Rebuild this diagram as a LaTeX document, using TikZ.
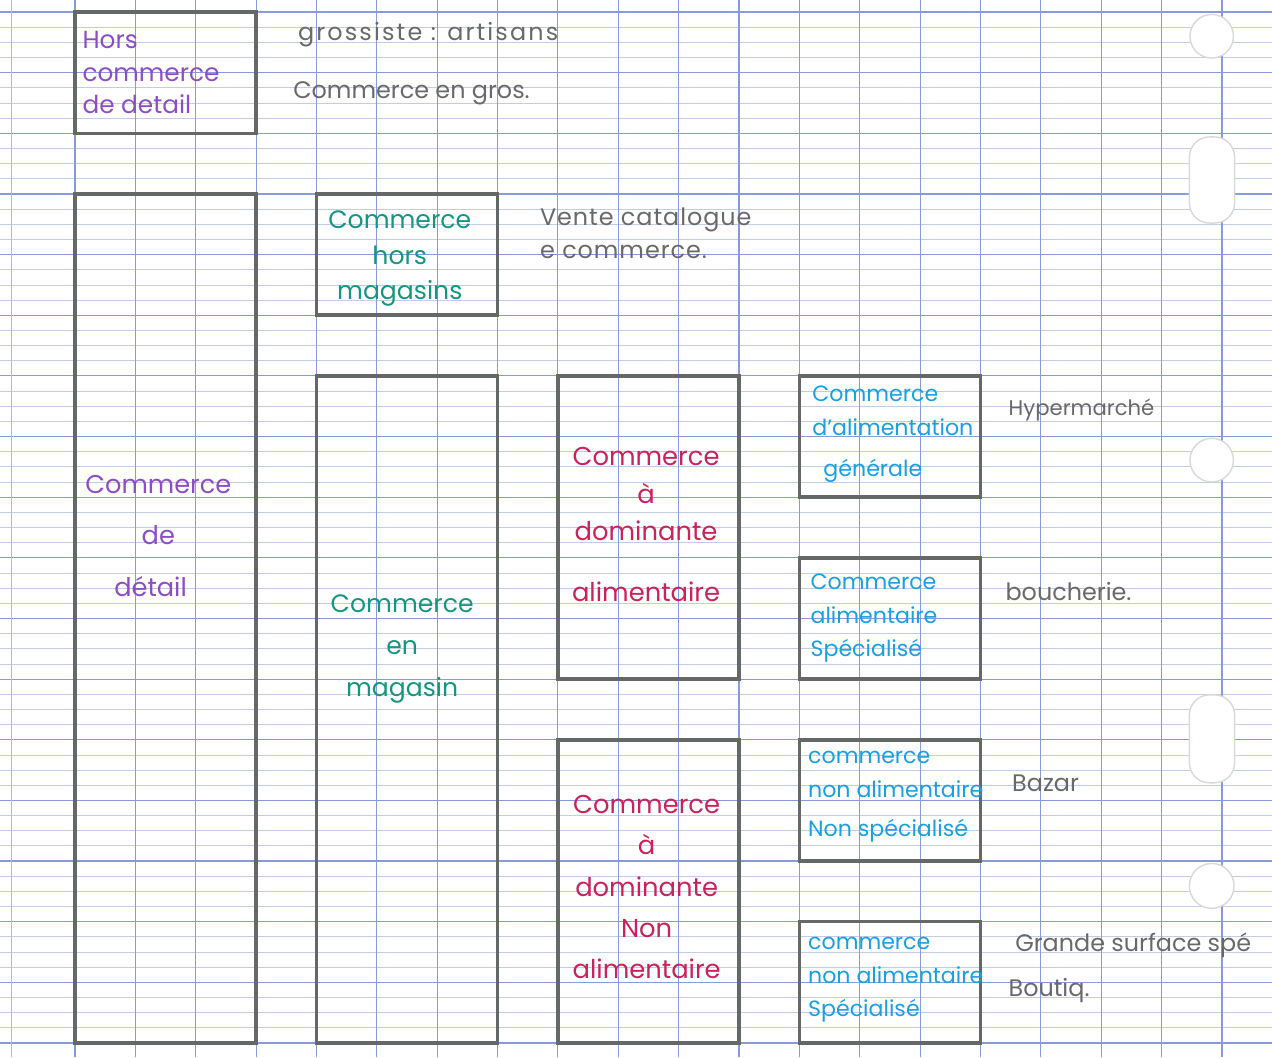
\documentclass[tikz,border=0pt]{standalone}
\usepackage{fontspec}
\setmainfont{Poppins}

\definecolor{pencil}{RGB}{100,105,104}
\definecolor{penpurple}{RGB}{140,78,196}
\definecolor{penteal}{RGB}{22,150,128}
\definecolor{pencrimson}{RGB}{200,35,90}
\definecolor{pencyan}{RGB}{25,160,225}
\definecolor{leadgray}{RGB}{105,105,105}
\definecolor{gridblue}{RGB}{135,155,218}
\definecolor{gridlight}{RGB}{195,203,232}
\definecolor{marginpink}{RGB}{230,165,185}

\begin{document}
\begin{tikzpicture}[x=1.2cm, y=-1.2055cm,
    box/.style={draw=pencil, line width=2pt},
    gridmajor/.style={gridblue, line width=0.65pt},
    gridminor/.style={gridlight, line width=0.45pt},
    hole/.style={fill=white, draw=black!15, line width=0.8pt},
    purpletxt/.style={text=penpurple, inner sep=0pt},
    tealtxt/.style={text=penteal, inner sep=0pt, align=center},
    crimsontxt/.style={text=pencrimson, inner sep=0pt, align=center},
    cyantxt/.style={text=pencyan, inner sep=0pt, anchor=west, align=left,
        font=\fontsize{12.5}{19}\selectfont},
    notetxt/.style={text=leadgray, inner sep=0pt, anchor=west, align=left,
        font=\fontsize{13.5}{18.6}\selectfont}]

    % 1. The sheet of squared paper
    \useasboundingbox (-0.242,-0.198) rectangle (20.829,17.232);
    \fill[white] (-0.242,-0.198) rectangle (20.829,17.232);
    \foreach \r in {0,...,16}
        \foreach \f in {0.25,0.5,0.75}
            \draw[gridminor] (-0.242,\r+\f) -- (20.829,\r+\f);
    \foreach \r in {0,...,17}
        \draw[gridmajor] (-0.242,\r) -- (20.829,\r);
    \foreach \c in {1,...,20}
        \draw[gridmajor] (\c,-0.198) -- (\c,17.232);
    \draw[marginpink, line width=0.8pt] (-0.05,-0.198) -- (-0.05,17.232);

    % 2. Punched holes on the right edge
    \draw[hole] (19.83,0.40) circle (0.36);
    \draw[hole, rounded corners=0.4cm] (19.46,2.06) rectangle (20.21,3.48);
    \draw[hole] (19.83,7.39) circle (0.36);
    \draw[hole, rounded corners=0.4cm] (19.46,11.26) rectangle (20.21,12.71);
    \draw[hole] (19.83,14.41) circle (0.37);

    % 3. The pencil boxes
    \draw[box] (1,0) rectangle (4,2);     % hors commerce de detail
    \draw[box] (1,3) rectangle (4,17);    % commerce de detail
    \draw[box] (5,3) rectangle (8,5);     % hors magasins
    \draw[box] (5,6) rectangle (8,17);    % en magasin
    \draw[box] (9,6) rectangle (12,11);   % dominante alimentaire
    \draw[box] (9,12) rectangle (12,17);  % dominante non alimentaire
    \draw[box] (13,6) rectangle (16,8);
    \draw[box] (13,9) rectangle (16,11);
    \draw[box] (13,12) rectangle (16,14);
    \draw[box] (13,15) rectangle (16,17);

    % 4. Purple level
    \node[purpletxt, anchor=west, align=left, font=\fontsize{14}{18.3}\selectfont]
        (horsdetail) at (1.12,1.0) {Hors\\commerce\\de detail};
    \node[purpletxt, align=center, font=\fontsize{14.5}{29}\selectfont]
        (detail) at (2.38,8.64) {Commerce\\de\\\hspace*{-0.6em}détail};

    % 5. Green level
    \node[tealtxt, font=\fontsize{14.2}{20}\selectfont]
        (horsmag) at (6.38,4.07) {Commerce\\hors\\magasins};
    \node[tealtxt, font=\fontsize{14.2}{23.7}\selectfont]
        (enmag) at (6.42,10.5) {Commerce\\en\\magasin};

    % 6. Red level
    \node[crimsontxt, font=\fontsize{14.6}{21.4}\selectfont]
        (domalim) at (10.46,8.45) {Commerce\\à\\dominante\\[13pt]alimentaire};
    \node[crimsontxt, font=\fontsize{14.6}{23.3}\selectfont]
        (domnonalim) at (10.47,14.43) {Commerce\\à\\dominante\\Non\\alimentaire};

    % 7. Blue level
    \node[cyantxt] (alimgen) at (13.21,6.96) {Commerce\\d'alimentation\\[4pt]\hspace*{0.5em}générale};
    \node[cyantxt] (alimspe) at (13.18,10.0) {Commerce\\alimentaire\\Spécialisé};
    \node[cyantxt] (nonalimnonspe) at (13.14,12.94) {commerce\\non alimentaire\\[3pt]Non spécialisé};
    \node[cyantxt] (nonalimspe) at (13.14,15.96) {commerce\\non alimentaire\\Spécialisé};

    % 8. Pencil notes
    \node[notetxt, font=\fontsize{13.5}{18.6}\selectfont\addfontfeature{LetterSpace=9}]
        (grossiste) at (4.69,0.38) {grossiste : artisans};
    \node[notetxt] (gros) at (4.61,1.34) {Commerce en gros.};
    \node[notetxt, font=\fontsize{13.5}{18.6}\selectfont\addfontfeature{LetterSpace=4}]
        (catalogue) at (8.70,3.65) {Vente catalogue\\e commerce.};
    \node[notetxt, font=\fontsize{12}{18}\selectfont] (hyper) at (16.46,6.56) {Hypermarché};
    \node[notetxt] (boucherie) at (16.41,9.56) {boucherie.};
    \node[notetxt] (bazar) at (16.52,12.71) {Bazar};
    \node[notetxt] (grandesurface) at (16.57,15.39) {Grande surface spé};
    \node[notetxt] (boutique) at (16.46,16.13) {Boutiq.};
\end{tikzpicture}
\end{document}
